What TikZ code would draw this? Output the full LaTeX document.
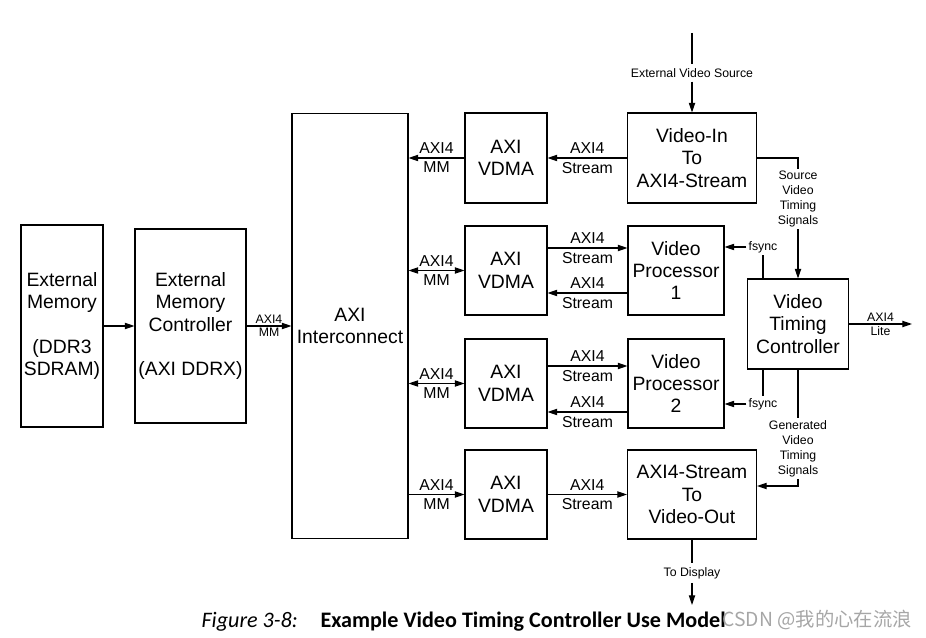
\documentclass[tikz,border=0pt]{standalone}
\usepackage{fontspec}
\setmainfont{Liberation Sans}
\newfontfamily\capfont{Carlito}
\newfontfamily\cjkfont{Noto Sans CJK SC}
\usetikzlibrary{arrows.meta}

\begin{document}
\begin{tikzpicture}[x=0.02cm, y=-0.02cm, line width=0.6pt,
  blk/.style={draw, align=center, inner sep=0pt, font=\fontsize{11}{12.8}\selectfont},
  lab/.style={inner sep=2pt, font=\fontsize{9}{10}\selectfont},
  tiny/.style={inner sep=1pt, align=center, font=\fontsize{7}{8.5}\selectfont},
  arr/.style={-{Triangle[length=5.5pt, width=3.6pt]}},
  both/.style={{Triangle[length=5.5pt, width=3.6pt]}-{Triangle[length=5.5pt, width=3.6pt]}}
]

\useasboundingbox (0,0) rectangle (926,638);

% memory side
\node[blk, minimum width=1.64cm, minimum height=4.04cm] (extmem) at (62,326) {External\\Memory\\\mbox{}\\(DDR3\\SDRAM)};
\node[blk, minimum width=2.22cm, minimum height=3.88cm] (memctl) at (190.5,326) {External\\Memory\\Controller\\\mbox{}\\(AXI DDRX)};
\node[blk, minimum width=2.32cm, minimum height=8.52cm] (axiic) at (350,326) {AXI\\Interconnect};

\draw[arr] (extmem) -- (memctl);
\draw[arr] (memctl) -- node[tiny, above] {AXI4} node[tiny, below] {MM} (axiic);

% vdma column
\node[blk, minimum width=1.64cm, minimum height=1.8cm] (vdma1) at (506,158) {AXI\\VDMA};
\node[blk, minimum width=1.64cm, minimum height=1.78cm] (vdma2) at (506,270.5) {AXI\\VDMA};
\node[blk, minimum width=1.64cm, minimum height=1.78cm] (vdma3) at (506,383.5) {AXI\\VDMA};
\node[blk, minimum width=1.64cm, minimum height=1.78cm] (vdma4) at (506,494.5) {AXI\\VDMA};

\draw[arr] (vdma1.west) -- node[lab, above] {AXI4} node[lab, below] {MM} (vdma1.west -| axiic.east);
\draw[both] (vdma2.west) -- node[lab, above] {AXI4} node[lab, below] {MM} (vdma2.west -| axiic.east);
\draw[both] (vdma3.west) -- node[lab, above] {AXI4} node[lab, below] {MM} (vdma3.west -| axiic.east);
\draw[arr] (vdma4.west -| axiic.east) -- node[lab, above] {AXI4} node[lab, below] {MM} (vdma4.west);

% video blocks
\node[blk, minimum width=2.58cm, minimum height=1.8cm] (vidin) at (692,158) {Video-In\\To\\AXI4-Stream};
\node[blk, minimum width=1.92cm, minimum height=1.78cm] (vproc1) at (676,270.5) {Video\\Processor\\1};
\node[blk, minimum width=1.92cm, minimum height=1.78cm] (vproc2) at (676,383.5) {Video\\Processor\\2};
\node[blk, minimum width=2.58cm, minimum height=1.78cm] (vidout) at (692,494.5) {AXI4-Stream\\To\\Video-Out};
\node[blk, minimum width=2.02cm, minimum height=1.8cm] (vtc) at (798,324) {Video\\Timing\\Controller};

% streams
\draw[arr] (vidin) -- node[lab, above] {AXI4} node[lab, below] {Stream} (vdma1);
\draw[arr] ([yshift=0.45cm]vdma2.east) -- node[lab, above] {AXI4} node[lab, below] {Stream} ([yshift=0.45cm]vproc1.west);
\draw[arr] ([yshift=-0.45cm]vproc1.west) -- node[lab, above] {AXI4} node[lab, below] {Stream} ([yshift=-0.45cm]vdma2.east);
\draw[arr] ([yshift=0.35cm]vdma3.east) -- node[lab, above] {AXI4} node[lab, below] {Stream} ([yshift=0.35cm]vproc2.west);
\draw[arr] ([yshift=-0.57cm]vproc2.west) -- node[lab, above] {AXI4} node[lab, below] {Stream} ([yshift=-0.57cm]vdma3.east);
\draw[arr] (vdma4) -- node[lab, above] {AXI4} node[lab, below] {Stream} (vidout);

% timing signals
\node[tiny] (srcvt) at (798,199) {Source\\Video\\Timing\\Signals};
\draw (vidin.east) -| (srcvt.north);
\draw[arr] (srcvt.south) -- (vtc.north);

\node[tiny] (genvt) at (798,448.5) {Generated\\Video\\Timing\\Signals};
\draw (vtc.south) -- (genvt.north);
\draw[arr] (genvt.south) |- ([yshift=0.17cm]vidout.east);

\node[tiny] (fsync1) at (763,247) {fsync};
\draw[arr] (fsync1.west) -- (fsync1.west -| vproc1.east);
\draw (fsync1.south) -- (fsync1.south |- vtc.north);

\node[tiny] (fsync2) at (763,404) {fsync};
\draw[arr] (fsync2.west) -- (fsync2.west -| vproc2.east);
\draw (fsync2.north) -- (fsync2.north |- vtc.south);

\coordinate (lite) at (912,324);
\draw[arr] (vtc.east) -- node[tiny, above] {AXI4} node[tiny, below] {Lite} (lite);

% video in and out
\coordinate (vsrc) at (692,33);
\node[tiny, inner sep=2pt] (extsrc) at (692,73) {External Video Source};
\draw (vsrc) -- (extsrc);
\draw[arr] (extsrc) -- (vidin);

\node[tiny, inner sep=2pt] (todisp) at (692,573) {To Display};
\coordinate (disp) at (692,605);
\draw (vidout) -- (todisp);
\draw[arr] (todisp) -- (disp);

% caption
\node[anchor=base west, inner sep=0pt, font=\capfont\fontsize{12.6}{14}\selectfont] (capnum) at (201,627) {\textit{Figure 3-8:}};
\node[anchor=base west, inner sep=0pt, font=\capfont\bfseries\fontsize{12.6}{14}\selectfont] (captxt) at (320,627) {Example Video Timing Controller Use Model};
\node[anchor=base west, inner sep=0pt, text=black!35, font=\cjkfont\fontsize{11}{13}\selectfont] (mark) at (722,626) {CSDN @我的心在流浪};

\end{tikzpicture}
\end{document}
